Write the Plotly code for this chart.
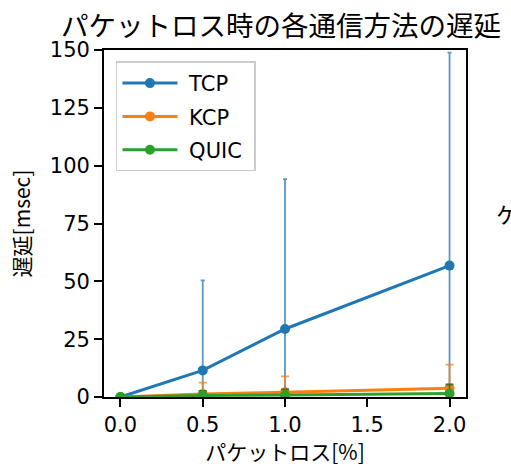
import plotly.graph_objects as go

# Data
loss = [0.0, 0.5, 1.0, 2.0]
tcp = [0.0, 11.5, 29.4, 56.8]
tcp_err = [0.0, 38.9, 64.8, 92.1]
kcp = [0.0, 1.3, 2.0, 3.8]
kcp_err = [0.0, 4.9, 6.9, 10.2]
quic = [0.0, 0.7, 0.9, 1.5]
quic_err = [0.0, 1.9, 2.4, 3.9]
x_ticks = [0.0, 0.5, 1.0, 1.5, 2.0]
y_ticks = [0, 25, 50, 75, 100, 125, 150]

series = [
    ("TCP", tcp, tcp_err, "#1f77b4", "rgba(31,119,180,0.75)", 2),
    ("KCP", kcp, kcp_err, "#ff7f0e", "rgba(255,127,14,0.75)", 4),
    ("QUIC", quic, quic_err, "#2ca02c", "rgba(30,110,30,0.85)", 4),
]

fig = go.Figure()
for name, vals, errs, col, ecol, cw in series:
    fig.add_trace(go.Scatter(
        x=loss, y=vals, name=" " + name + " ", mode="lines+markers",
        line=dict(color=col, width=3),
        marker=dict(color=col, size=10),
        error_y=dict(type="data", array=errs, visible=True, color=ecol,
                     thickness=1.8, width=cw),
        legendgroup=name,
    ))

CJK = "Noto Sans CJK JP"
LAT = "DejaVu Sans"

fig.update_layout(
    width=511, height=466,
    margin=dict(l=104, r=45, t=50, b=69, autoexpand=False),
    plot_bgcolor="white", paper_bgcolor="white",
    title=dict(text="パケットロス時の各通信方法の遅延", x=(281 - 104) / 362, xref="paper",
               y=1 - 26 / 466, yref="container", yanchor="middle", xanchor="center",
               font=dict(family=CJK, size=27.5, color="black")),
    showlegend=True,
    legend=dict(x=0.033, y=0.967, xanchor="left", yanchor="top",
                bgcolor="rgba(255,255,255,0.8)", bordercolor="#cccccc", borderwidth=1.5,
                font=dict(family=LAT, size=21, color="black"),
                itemwidth=55, tracegroupgap=3),
    xaxis=dict(range=[-0.1, 2.1], tickvals=x_ticks, tickformat=".1f", automargin=False,
               showgrid=False, zeroline=False, showline=True, linecolor="black",
               linewidth=1.8, mirror=True, ticks="outside", ticklen=8, tickwidth=1.5,
               ticklabelstandoff=0,
               tickcolor="black", tickfont=dict(family=LAT, size=21, color="black"),
               title=dict(text="パケットロス[%]", standoff=27,
                          font=dict(family=CJK, size=21, color="black"))),
    yaxis=dict(range=[0, 150], tickvals=y_ticks, automargin=False,
               showgrid=False, zeroline=False, showline=True, linecolor="black",
               linewidth=1.8, mirror=True, ticks="outside", ticklen=8, tickwidth=1.5,
               tickcolor="black", tickfont=dict(family=LAT, size=21, color="black"),
               title=dict(text="遅延[msec]", standoff=13,
                          font=dict(family=CJK, size=21, color="black"))),
    annotations=[dict(text="ケ", xref="paper", yref="paper",
                      x=(494 - 104) / 362, y=(396.7 - 213) / 347,
                      xanchor="left", yanchor="middle", showarrow=False,
                      font=dict(family=CJK, size=22, color="black"))],
)

fig.write_html("out.html", config={"displayModeBar": False},
               post_script="document.body.style.margin='0';document.body.style.overflow='hidden';")
